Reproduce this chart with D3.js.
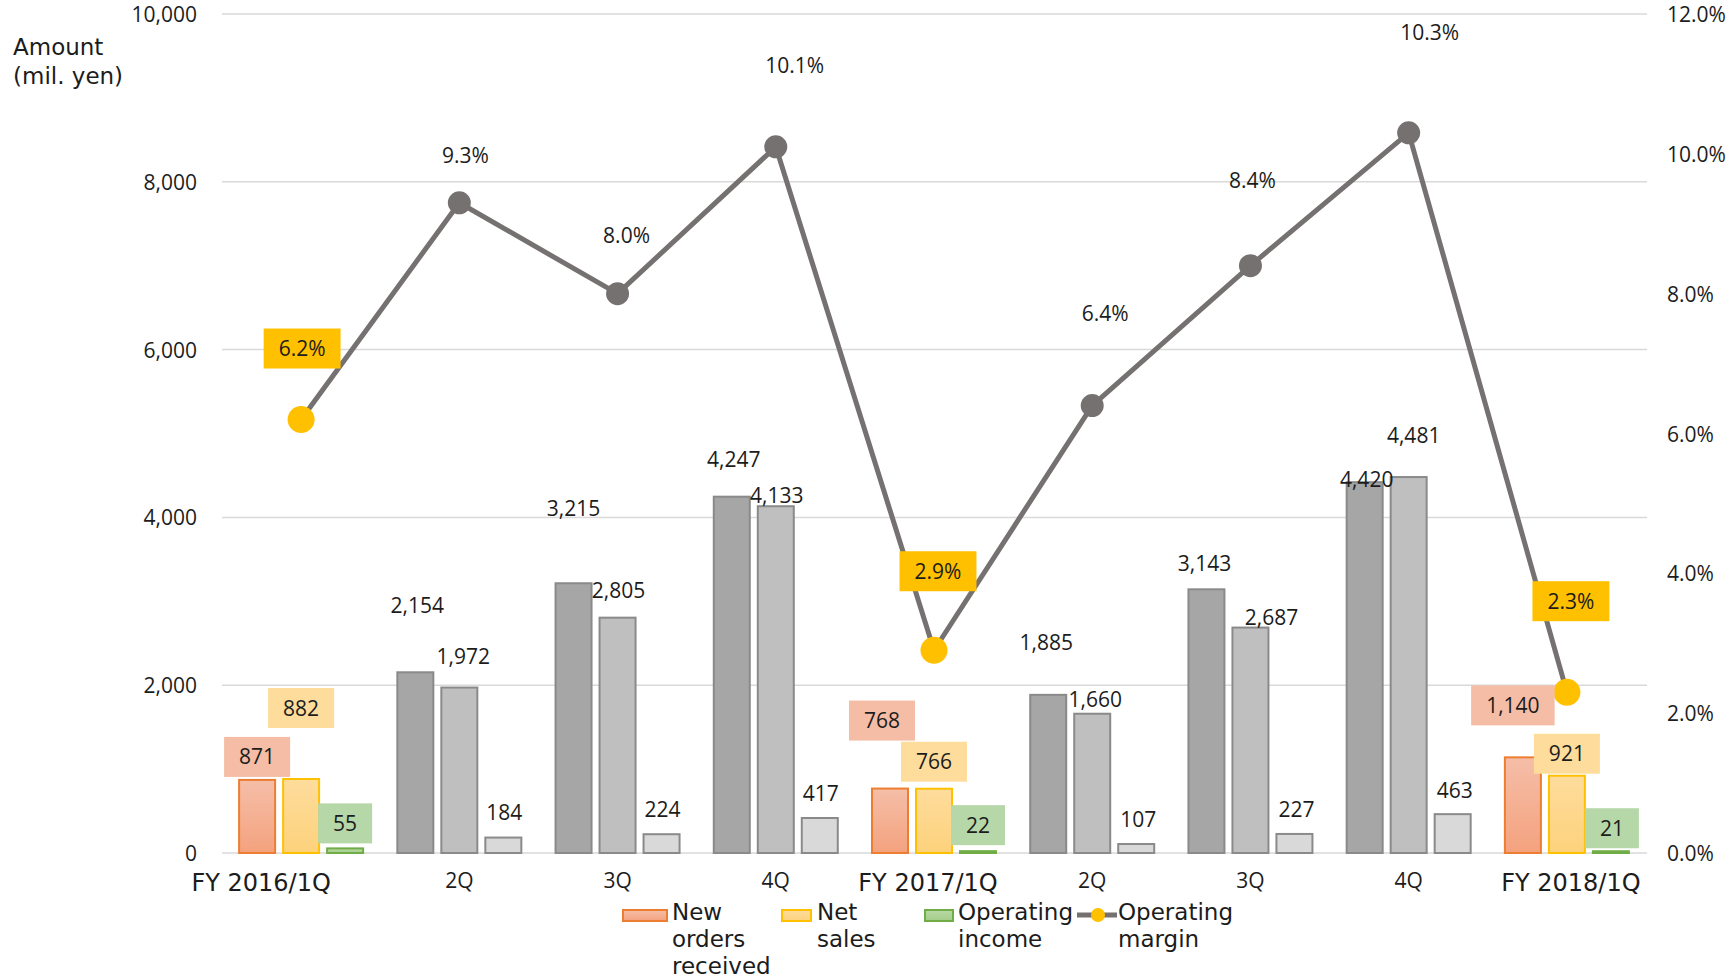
<!DOCTYPE html>
<html>
<head>
<meta charset="utf-8">
<script src="https://cdn.jsdelivr.net/npm/d3@7"></script>
<style>
  html, body { margin: 0; padding: 0; background: #ffffff; }
  svg { display: block; }
</style>
</head>
<body>
<svg id="chart" width="1729" height="980"></svg>
<script>
// Quarterly results: orders, sales, income (mil. yen) and operating margin (%)
const categories = ["FY 2016/1Q", "2Q", "3Q", "4Q", "FY 2017/1Q", "2Q", "3Q", "4Q", "FY 2018/1Q"];
const newOrders = [871, 2154, 3215, 4247, 768, 1885, 3143, 4420, 1140];
const netSales = [882, 1972, 2805, 4133, 766, 1660, 2687, 4481, 921];
const operatingIncome = [55, 184, 224, 417, 22, 107, 227, 463, 21];
const operatingMargin = [6.2, 9.3, 8.0, 10.1, 2.9, 6.4, 8.4, 10.3, 2.3];
const amountTicks = [0, 2000, 4000, 6000, 8000, 10000];
const marginTicks = [0, 2, 4, 6, 8, 10, 12];
const seriesNames = ["New orders received", "Net sales", "Operating income"];

// Label nudges in pixels [dx, dy] from the top of each mark
const ordersNudge = [[0,-23],[2,-67],[0,-75],[2,-37],[-8,-68],[-2,-52],[-2,-26],[2,-3],[-10,-52]];
const salesNudge = [[0,-71],[4,-31],[1,-27],[1,-11],[0,-27],[3,-14],[21,-10],[5,-42],[0,-22]];
const incomeNudge = [[0,-25],[1,-25],[1,-25],[1,-25],[0,-26],[2,-25],[2,-25],[2,-24],[1,-23]];
const marginNudge = [[1,-71],[6,-47],[9,-58],[19,-81],[4,-79],[13,-92],[2,-85],[21,-100],[4,-91]];
const fyLabelShift = { 0: -40, 4: -6, 8: 4 };

const NUM_FONT = "'Open Sans', 'Noto Sans', sans-serif";
const TXT_FONT = "'DejaVu Sans', Verdana, sans-serif";
const INK = "#1c1c1c";

const svg = d3.select("#chart");
const plot = { left: 222, right: 1647, top: 14, bottom: 853 };

const x = d3.scaleBand().domain(d3.range(categories.length)).range([plot.left, plot.right - 1]).padding(0);
const xs = d3.scaleBand().domain([0, 1, 2]).range([-62, 62]).paddingInner(8 / 44).paddingOuter(0);
const y = d3.scaleLinear().domain([0, 10000]).range([plot.bottom, plot.top]);
const y2 = d3.scaleLinear().domain([0, 12]).range([plot.bottom, plot.top]);
const cx = i => x(i) + x.bandwidth() / 2;
const isFY = i => categories[i].startsWith("FY");

// gradients for highlighted quarters
const defs = svg.append("defs");
const grads = [
  { id: "gOrange", top: "#f5bea8", bottom: "#f4a27e" },
  { id: "gYellow", top: "#fedc9c", bottom: "#fdd27c" },
  { id: "gGreen", top: "#b9d9a6", bottom: "#a3cc88" }
];
grads.forEach(g => {
  const lg = defs.append("linearGradient").attr("id", g.id).attr("x1", 0).attr("y1", 0).attr("x2", 0).attr("y2", 1);
  lg.append("stop").attr("offset", "0%").attr("stop-color", g.top);
  lg.append("stop").attr("offset", "100%").attr("stop-color", g.bottom);
});
const hiFill = ["url(#gOrange)", "url(#gYellow)", "url(#gGreen)"];
const hiStroke = ["#ed7d31", "#ffc000", "#70ad47"];
const hiLabelBg = ["#f5bca6", "#fedd9c", "#b6d7a8"];
const grayFill = ["#a6a6a6", "#bfbfbf", "#d9d9d9"];
const grayStroke = "#8a8a8a";

// gridlines
svg.append("g").selectAll("line").data(amountTicks).join("line")
  .attr("x1", plot.left).attr("x2", plot.right)
  .attr("y1", d => y(d)).attr("y2", d => y(d))
  .attr("stroke", "#d9d9d9").attr("stroke-width", 1.5);

// left axis
const axL = svg.append("g").attr("transform", `translate(${plot.left},0)`)
  .call(d3.axisLeft(y).tickValues(amountTicks).tickFormat(d3.format(",")).tickSize(0).tickPadding(25));
axL.select(".domain").remove();
axL.selectAll("text").attr("font-family", NUM_FONT).attr("font-size", 21).attr("fill", INK).attr("dy", "0.36em");

// right axis
const axR = svg.append("g").attr("transform", `translate(${plot.right},0)`)
  .call(d3.axisRight(y2).tickValues(marginTicks).tickFormat(d => d.toFixed(1) + "%").tickSize(0).tickPadding(20));
axR.select(".domain").remove();
axR.selectAll("text").attr("font-family", NUM_FONT).attr("font-size", 21).attr("fill", INK).attr("dy", "0.36em");

// axis title
const title = svg.append("text").attr("font-family", TXT_FONT).attr("font-size", 23).attr("fill", INK);
title.append("tspan").attr("x", 13).attr("y", 55).text("Amount");
title.append("tspan").attr("x", 13).attr("y", 84).text("(mil. yen)");

// bars
const seriesValues = [newOrders, netSales, operatingIncome];
const barData = [];
seriesValues.forEach((vals, s) => vals.forEach((v, i) => barData.push({ s, i, v })));
svg.append("g").selectAll("rect").data(barData).join("rect")
  .attr("x", d => cx(d.i) + xs(d.s))
  .attr("width", xs.bandwidth())
  .attr("y", d => y(d.v))
  .attr("height", d => y(0) - y(d.v))
  .attr("fill", d => isFY(d.i) ? hiFill[d.s] : grayFill[d.s])
  .attr("stroke", d => isFY(d.i) ? hiStroke[d.s] : grayStroke)
  .attr("stroke-width", 2);

// margin line
const line = d3.line().x((d, i) => cx(i)).y(d => y2(d));
svg.append("path").datum(operatingMargin)
  .attr("d", line).attr("fill", "none")
  .attr("stroke", "#767171").attr("stroke-width", 5).attr("stroke-linejoin", "round");
svg.append("g").selectAll("circle").data(operatingMargin).join("circle")
  .attr("cx", (d, i) => cx(i)).attr("cy", d => y2(d))
  .attr("r", (d, i) => isFY(i) ? 13.5 : 11.5)
  .attr("fill", (d, i) => isFY(i) ? "#ffc000" : "#767171");

// data labels
const labelLayer = svg.append("g");
function addLabel(px, py, text, bg) {
  const g = labelLayer.append("g").attr("transform", `translate(${px},${py})`);
  const t = g.append("text").attr("text-anchor", "middle").attr("dy", "0.36em")
    .attr("font-family", NUM_FONT).attr("font-size", 21).attr("fill", INK).text(text);
  if (bg) {
    const w = t.node().getComputedTextLength() + 30;
    g.insert("rect", "text").attr("x", -w / 2).attr("y", -20).attr("width", w).attr("height", 40).attr("fill", bg);
  }
}
const fmt = d3.format(",");
const nudges = [ordersNudge, salesNudge, incomeNudge];
barData.forEach(d => {
  const [dx, dy] = nudges[d.s][d.i];
  addLabel(cx(d.i) + xs(d.s) + xs.bandwidth() / 2 + dx, y(d.v) + dy, fmt(d.v), isFY(d.i) ? hiLabelBg[d.s] : null);
});
operatingMargin.forEach((v, i) => {
  const [dx, dy] = marginNudge[i];
  addLabel(cx(i) + dx, y2(v) + dy, v.toFixed(1) + "%", isFY(i) ? "#ffc000" : null);
});

// category labels
svg.append("g").selectAll("text").data(categories).join("text")
  .attr("x", (d, i) => cx(i) + (fyLabelShift[i] || 0))
  .attr("y", (d, i) => isFY(i) ? 891 : 888)
  .attr("text-anchor", "middle")
  .attr("font-family", (d, i) => isFY(i) ? TXT_FONT : NUM_FONT)
  .attr("font-size", (d, i) => isFY(i) ? 24 : 21)
  .attr("fill", INK)
  .text(d => d);

// legend
const legend = svg.append("g").attr("font-family", TXT_FONT).attr("font-size", 23).attr("fill", INK);
const legendItems = [
  { sw: [623, 44], tx: 672, lines: ["New", "orders", "received"], s: 0 },
  { sw: [782, 29], tx: 817, lines: ["Net", "sales"], s: 1 },
  { sw: [925, 28], tx: 958, lines: ["Operating", "income"], s: 2 }
];
legendItems.forEach(it => {
  legend.append("rect").attr("x", it.sw[0]).attr("y", 910).attr("width", it.sw[1]).attr("height", 11)
    .attr("fill", hiFill[it.s]).attr("stroke", hiStroke[it.s]).attr("stroke-width", 2);
  const t = legend.append("text");
  it.lines.forEach((l, k) => t.append("tspan").attr("x", it.tx).attr("y", 920 + k * 27).text(l));
});
legend.append("line").attr("x1", 1077).attr("x2", 1117).attr("y1", 915).attr("y2", 915)
  .attr("stroke", "#767171").attr("stroke-width", 5);
legend.append("circle").attr("cx", 1098).attr("cy", 915).attr("r", 7).attr("fill", "#ffc000");
const mt = legend.append("text");
["Operating", "margin"].forEach((l, k) => mt.append("tspan").attr("x", 1118).attr("y", 920 + k * 27).text(l));
</script>
</body>
</html>
